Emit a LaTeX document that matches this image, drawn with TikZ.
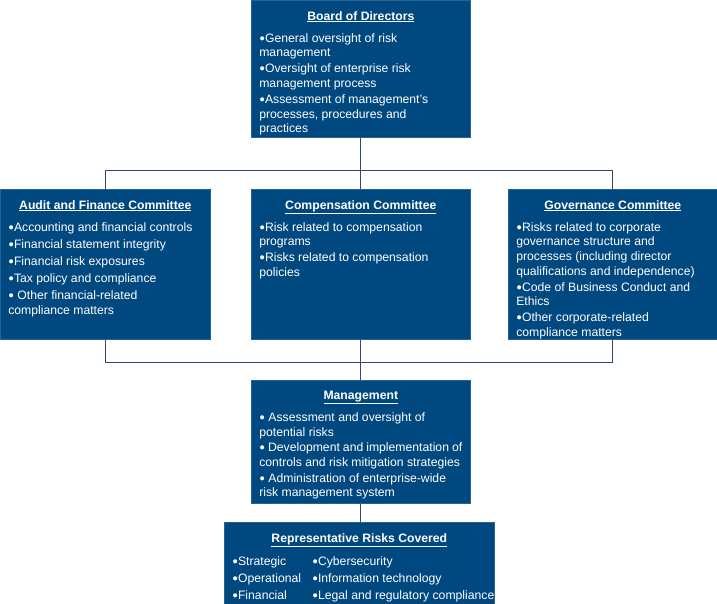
\documentclass[tikz,border=0pt]{standalone}
\usepackage{fontspec}
\setmainfont{Liberation Sans}
\usetikzlibrary{positioning}
\definecolor{colBoite}{RGB}{0,72,128}
\definecolor{colTrait}{RGB}{45,75,115}
% puce ronde
\newcommand{\puce}{\raisebox{1pt}{\fontsize{9.5}{9.5}\selectfont ●}}
% contenu d'un bloc : largeur, hauteur, titre, puces
\newcommand{\contenu}[4]{\parbox[c][#2][t]{#1}{\raggedright\vspace*{11pt}%
  \makebox[\linewidth][c]{\underline{\textbf{#3}}}\\[7.5pt]#4}}

\begin{document}
\begin{tikzpicture}[
  x=1pt, y=-1pt,
  bloc/.style={draw=colBoite!85!white, line width=0.6pt, fill=colBoite,
               text=white, inner xsep=8pt, inner ysep=0pt, anchor=north west,
               font=\fontsize{12.2}{14.6}\selectfont},
  trait/.style={colTrait, line width=1pt}
]
\useasboundingbox (0,0) rectangle (717,604);

% ---------- Conseil ----------
\node[bloc] (conseil) at (251,0) {\contenu{203pt}{137pt}{Board of Directors}{%
  \puce General oversight of risk\\ management\\[1.5pt]
  \puce Oversight of enterprise risk\\ management process\\[1.5pt]
  \puce Assessment of management's\\ processes, procedures and\\ practices}};

% ---------- Comités ----------
\node[bloc] (audit) at (0,189) {\contenu{194pt}{150pt}{Audit and Finance Committee}{%
  \puce Accounting and financial controls\\[2.5pt]
  \puce Financial statement integrity\\[2.5pt]
  \puce Financial risk exposures\\[2.5pt]
  \puce Tax policy and compliance\\[2.5pt]
  \puce\ Other financial-related\\ compliance matters}};
\node[bloc] (remun) at (251,189) {\contenu{203pt}{150pt}{Compensation Committee}{%
  \puce Risk related to compensation\\ programs\\[1.5pt]
  \puce Risks related to compensation\\ policies}};
\node[bloc] (gouv) at (508,189) {\contenu{193pt}{150pt}{Governance Committee}{%
  \puce Risks related to corporate\\ governance structure and\\ processes (including director\\ qualifications and independence)\\[1.5pt]
  \puce Code of Business Conduct and\\ Ethics\\[1.5pt]
  \puce Other corporate-related\\ compliance matters}};

% ---------- Direction ----------
\node[bloc] (direction) at (251,380) {\contenu{203pt}{123pt}{Management}{%
  \puce\ Assessment and oversight of\\ potential risks\\[1pt]
  \puce\ Development and implementation of\\ controls and risk mitigation strategies\\[1pt]
  \puce\ Administration of enterprise-wide\\ risk management system}};

% ---------- Risques ----------
\node[bloc] (risques) at (224,522) {\contenu{254pt}{86pt}{Representative Risks Covered}{%
  \begin{tabular}{@{}p{80pt}@{}l@{}}
  \puce Strategic & \puce Cybersecurity\\[2.5pt]
  \puce Operational & \puce Information technology\\[2.5pt]
  \puce Financial & \puce Legal and regulatory compliance
  \end{tabular}}};

% ---------- Traits de liaison ----------
\coordinate (barreHaut) at (0,171);
\coordinate (barreBas) at (0,362);
\draw[trait] (conseil.south) -- (remun.north);
\draw[trait] (audit.north) |- (gouv.north |- barreHaut) -- (gouv.north);
\draw[trait] (remun.south) -- (direction.north);
\draw[trait] (audit.south) |- (gouv.south |- barreBas) -- (gouv.south);
\draw[trait] (direction.south) -- (direction.south |- risques.north);

\end{tikzpicture}
\end{document}
